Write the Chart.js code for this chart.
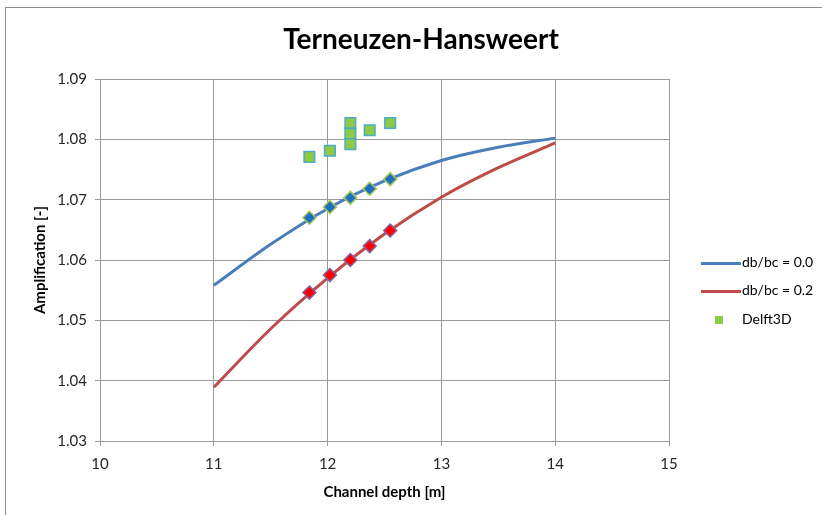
<!DOCTYPE html>
<html><head><meta charset="utf-8">
<script src="https://cdn.jsdelivr.net/npm/chart.js@4/dist/chart.umd.min.js"></script>
<style>
html,body{margin:0;padding:0;background:#fff;}
#wrap{position:relative;width:822px;height:515px;overflow:hidden;font-family:Lato,"Open Sans",sans-serif;}
#frame{position:absolute;left:5px;top:7px;width:900px;height:600px;border-left:1px solid #8c8c8c;border-top:1px solid #8c8c8c;}
#title{position:absolute;left:0;width:842px;top:21px;text-align:center;font-weight:bold;font-size:28px;color:#000;}
canvas{position:absolute;left:0;top:0;}
.leg{position:absolute;font-size:14px;color:#000;white-space:nowrap;}
.ln{position:absolute;height:3px;width:40px;}
.sq{position:absolute;width:8px;height:8px;background:#8fca47;}
</style></head>
<body><div id="wrap">
<div id="frame"></div>
<canvas id="c" width="822" height="515"></canvas>
<div id="title">Terneuzen-Hansweert</div>
<div class="ln" style="left:701px;top:262px;background:#4a7ebb"></div>
<div class="leg" style="left:742px;top:253px">db/bc = 0.0</div>
<div class="ln" style="left:701px;top:290px;background:#be4b48"></div>
<div class="leg" style="left:742px;top:281px">db/bc = 0.2</div>
<div class="sq" style="left:715px;top:316px"></div>
<div class="leg" style="left:742px;top:310px">Delft3D</div>
</div>
<script>
const curveDepth = [11, 11.5, 12, 12.5, 13, 13.5, 14];
const curveDb00 = [1.0558, 1.0626, 1.0685, 1.0731, 1.0765, 1.0787, 1.0802];
const curveDb02 = [1.0389, 1.0486, 1.0570, 1.0643, 1.0704, 1.0753, 1.0794];
const markDepth = [11.84, 12.02, 12.2, 12.37, 12.55];
const markDb00 = [1.0670, 1.0688, 1.0703, 1.0718, 1.0734];
const markDb02 = [1.0546, 1.0575, 1.0600, 1.0623, 1.0649];
const delftDepth = [11.84, 12.02, 12.2, 12.2, 12.2, 12.37, 12.55];
const delftAmp = [1.0771, 1.0781, 1.0827, 1.0809, 1.0792, 1.0815, 1.0827];
const xTicks = [10, 11, 12, 13, 14, 15];
const yTicks = [1.03, 1.04, 1.05, 1.06, 1.07, 1.08, 1.09];

const pts = (xs, ys) => xs.map((x, i) => ({x, y: ys[i]}));
const font = "Lato, 'Open Sans', sans-serif";

new Chart(document.getElementById('c'), {
  type: 'scatter',
  data: {
    datasets: [
      {label: 'db/bc = 0.0 markers', data: pts(markDepth, markDb00), pointStyle: 'rectRot', pointRadius: 6.5,
       backgroundColor: '#1f6fc0', borderColor: '#a4c65a', borderWidth: 1.5, showLine: false, order: 0},
      {label: 'db/bc = 0.2 markers', data: pts(markDepth, markDb02), pointStyle: 'rectRot', pointRadius: 6.5,
       backgroundColor: '#ff0000', borderColor: '#8064a2', borderWidth: 1.5, showLine: false, order: 0},
      {label: 'Delft3D', data: pts(delftDepth, delftAmp), pointStyle: 'rect', pointRadius: 7.5,
       backgroundColor: '#8fca47', borderColor: '#4bacc6', borderWidth: 1.5, showLine: false, order: 0},
      {label: 'db/bc = 0.0', data: pts(curveDepth, curveDb00), showLine: true, pointRadius: 0,
       borderColor: '#4a7ebb', borderWidth: 3, cubicInterpolationMode: 'monotone', order: 1},
      {label: 'db/bc = 0.2', data: pts(curveDepth, curveDb02), showLine: true, pointRadius: 0,
       borderColor: '#be4b48', borderWidth: 3, cubicInterpolationMode: 'monotone', order: 1}
    ]
  },
  options: {
    responsive: false,
    animation: false,
    layout: {padding: {top: 79, right: 153, left: 0, bottom: 0}},
    plugins: {legend: {display: false}, tooltip: {enabled: false}},
    scales: {
      x: {
        type: 'linear', min: 10, max: 15,
        afterBuildTicks: s => { s.ticks = xTicks.map(v => ({value: v})); },
        afterFit: s => { s.height = 74; },
        grid: {color: '#9a9a9a', lineWidth: 1, tickLength: 5, drawTicks: true},
        border: {color: '#9a9a9a'},
        ticks: {padding: 9, color: '#262626', font: {family: font, size: 15}},
        title: {display: true, text: 'Channel depth [m]', color: '#000', font: {family: font, size: 15, weight: 'bold'}, padding: {top: 4, bottom: 14}}
      },
      y: {
        type: 'linear', min: 1.03, max: 1.09,
        afterBuildTicks: s => { s.ticks = yTicks.map(v => ({value: v})); },
        afterFit: s => { s.width = 100; },
        grid: {color: '#9a9a9a', lineWidth: 1, tickLength: 5, drawTicks: true},
        border: {color: '#9a9a9a'},
        ticks: {padding: 8, color: '#262626', font: {family: font, size: 15}, callback: v => v.toFixed(2)},
        title: {display: true, text: 'Amplification [-]', color: '#000', font: {family: font, size: 15, weight: 'bold'}, padding: {top: 31, bottom: 0}}
      }
    }
  }
});
</script>
</body></html>
